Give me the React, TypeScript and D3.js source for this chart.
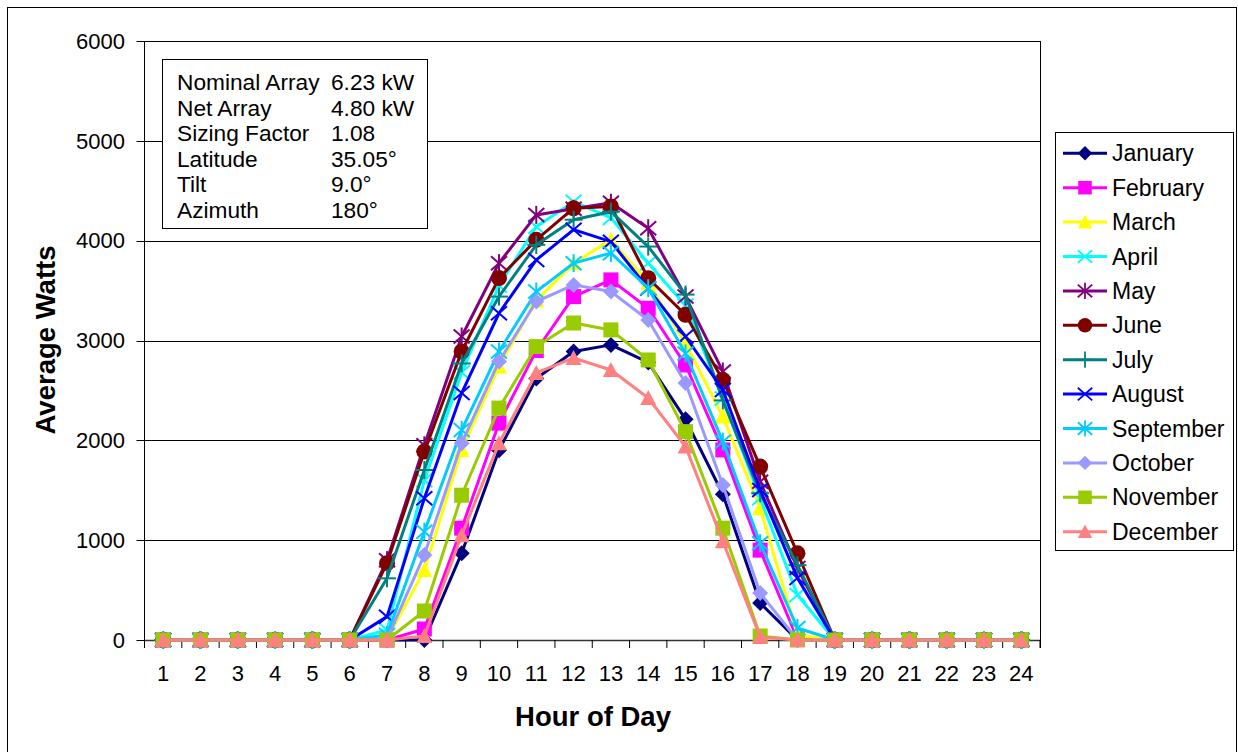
import React from "react";
import * as d3 from "d3";

const hours = d3.range(1, 25);
const yTicks = [0, 1000, 2000, 3000, 4000, 5000, 6000];

const z6 = [0, 0, 0, 0, 0, 0];
const z = (n: number) => new Array(n).fill(0);

const january = [...z6, 0, 0, 870, 1900, 2620, 2890, 2956, 2780, 2210, 1460, 370, 0, ...z(6)];
const february = [...z6, 0, 110, 1120, 2172, 2900, 3440, 3607, 3323, 2755, 1904, 900, 10, ...z(6)];
const march = [...z6, 10, 700, 1904, 2740, 3400, 3775, 4008, 3580, 2973, 2238, 1320, 50, ...z(6)];
const april = [...z6, 100, 1600, 2680, 3550, 4140, 4390, 4228, 3774, 3350, 2420, 1420, 450, ...z(6)];
const may = [...z6, 800, 1950, 3040, 3775, 4258, 4320, 4380, 4125, 3440, 2690, 1586, 720, ...z(6)];
const june = [...z6, 770, 1887, 2890, 3625, 4008, 4325, 4342, 3624, 3257, 2605, 1737, 868, ...z(6)];
const july = [...z6, 618, 1703, 2770, 3440, 3958, 4210, 4290, 3941, 3460, 2400, 1470, 750, ...z(6)];
const august = [...z6, 234, 1420, 2473, 3273, 3807, 4110, 3990, 3520, 3040, 2505, 1503, 620, ...z(6)];
const september = [...z6, 50, 1085, 2104, 2890, 3490, 3775, 3875, 3524, 2870, 1987, 970, 120, ...z(6)];
const october = [...z6, 10, 852, 1970, 2790, 3390, 3557, 3490, 3206, 2575, 1553, 470, 0, ...z(6)];
const november = [...z6, 0, 290, 1450, 2323, 2939, 3175, 3106, 2805, 2087, 1120, 40, 0, ...z(6)];
const december = [...z6, 0, 40, 1050, 1970, 2675, 2825, 2705, 2424, 1937, 990, 30, 0, ...z(6)];

const seriesNames = ["January", "February", "March", "April", "May", "June", "July", "August", "September", "October", "November", "December"];
const seriesValues = [january, february, march, april, may, june, july, august, september, october, november, december];
const seriesColors = ["#000080", "#FF00FF", "#FFFF00", "#00FFFF", "#800080", "#800000", "#008080", "#0000FF", "#00CCFF", "#9999FF", "#99CC00", "#FF8080"];
const seriesMarkers = ["diamond", "square", "triangle", "x", "asterisk", "circle", "plus", "x", "asterisk", "diamond", "square", "triangle"];

const infoLabels = ["Nominal Array", "Net Array", "Sizing Factor", "Latitude", "Tilt", "Azimuth"];
const infoValues = ["6.23 kW", "4.80 kW", "1.08", "35.05°", "9.0°", "180°"];

const FONT = "'Liberation Sans', Arial, sans-serif";

function Marker({ type, x, y, color, s = 1 }: { type: string; x: number; y: number; color: string; s?: number }) {
  const t = `translate(${x},${y}) scale(${s})`;
  switch (type) {
    case "diamond":
      return <polygon transform={t} points="0,-8 8,0 0,8 -8,0" fill={color} />;
    case "square":
      return <rect transform={t} x={-7.5} y={-7.5} width={15} height={15} fill={color} />;
    case "triangle":
      return <polygon transform={t} points="0,-8 8,7 -8,7" fill={color} />;
    case "circle":
      return <circle transform={t} r={8} fill={color} />;
    case "x":
      return (
        <g transform={t} stroke={color} strokeWidth={2}>
          <line x1={-8} y1={-7} x2={8} y2={7} />
          <line x1={-8} y1={7} x2={8} y2={-7} />
        </g>
      );
    case "asterisk":
      return (
        <g transform={t} stroke={color} strokeWidth={2}>
          <line x1={-8} y1={-7} x2={8} y2={7} />
          <line x1={-8} y1={7} x2={8} y2={-7} />
          <line x1={0} y1={-9} x2={0} y2={9} />
        </g>
      );
    case "plus":
      return (
        <g transform={t} stroke={color} strokeWidth={2}>
          <line x1={-9} y1={0} x2={9} y2={0} />
          <line x1={0} y1={-9} x2={0} y2={9} />
        </g>
      );
    default:
      return null;
  }
}

export default function App() {
  const W = 1238, H = 752;
  const left = 144.5, right = 1040, top = 41, bottom = 640;
  const x = d3.scaleBand<number>().domain(hours).range([left, right]);
  const bw = x.bandwidth();
  const cx = (h: number) => (x(h) as number) + bw / 2;
  const y = d3.scaleLinear().domain([0, 6000]).range([bottom, top]);
  const line = d3.line<number>().x((_, i) => cx(hours[i])).y((v) => y(v));

  return (
    <svg width={W} height={H} style={{ position: "absolute", left: 0, top: 0, background: "#fff" }} fontFamily={FONT}>
      <rect x={7.5} y={7.5} width={1229} height={760} fill="#fff" stroke="#000" strokeWidth={1} />
      {/* gridlines */}
      {yTicks.slice(1).map((t) => (
        <line key={t} x1={left} x2={right} y1={Math.round(y(t)) + 0.5} y2={Math.round(y(t)) + 0.5} stroke="#000" strokeWidth={1} />
      ))}
      <line x1={right + 0.5} x2={right + 0.5} y1={top} y2={bottom + 8} stroke="#000" />
      {/* y axis */}
      <line x1={left} x2={left} y1={top} y2={bottom} stroke="#000" />
      {yTicks.map((t) => (
        <g key={t}>
          <line x1={left - 8} x2={left} y1={Math.round(y(t)) + 0.5} y2={Math.round(y(t)) + 0.5} stroke="#000" />
          <text x={125} y={y(t)} dy="0.35em" textAnchor="end" fontSize={22}>{t}</text>
        </g>
      ))}
      {/* x axis */}
      <line x1={left} x2={right} y1={bottom + 0.5} y2={bottom + 0.5} stroke="#333" strokeWidth={1.5} />
      {d3.range(0, 25).map((i) => (
        <line key={i} x1={left + i * bw} x2={left + i * bw} y1={bottom} y2={bottom + 8} stroke="#000" />
      ))}
      {hours.map((h) => (
        <text key={h} x={cx(h)} y={681} textAnchor="middle" fontSize={22}>{h}</text>
      ))}
      <text x={593} y={726} textAnchor="middle" fontSize={27.5} fontWeight="bold">Hour of Day</text>
      <text transform="translate(55,340) rotate(-90)" textAnchor="middle" fontSize={27.5} fontWeight="bold">Average Watts</text>
      {/* series */}
      {seriesValues.map((vals, si) => (
        <g key={si}>
          <path d={line(vals) || ""} fill="none" stroke={seriesColors[si]} strokeWidth={3} strokeLinejoin="round" />
          {vals.map((v, i) => (
            <Marker key={i} type={seriesMarkers[si]} x={cx(hours[i])} y={y(v)} color={seriesColors[si]} />
          ))}
        </g>
      ))}
      {/* info box */}
      <rect x={162.5} y={59.5} width={265} height={169} fill="#fff" stroke="#000" strokeWidth={1} />
      {infoLabels.map((l, i) => (
        <g key={l} fontSize={22.7}>
          <text x={177} y={90 + i * 25.6}>{l}</text>
          <text x={331} y={90 + i * 25.6}>{infoValues[i]}</text>
        </g>
      ))}
      {/* legend */}
      <rect x={1055.5} y={132.5} width={178} height={418} fill="#fff" stroke="#000" strokeWidth={1} />
      {seriesNames.map((n, i) => {
        const ly = 153.3 + i * 34.4;
        return (
          <g key={n}>
            <line x1={1063} x2={1107} y1={ly} y2={ly} stroke={seriesColors[i]} strokeWidth={3} />
            <Marker type={seriesMarkers[i]} x={1085} y={ly} color={seriesColors[i]} s={0.9} />
            <text x={1112} y={ly} dy="0.35em" fontSize={23}>{n}</text>
          </g>
        );
      })}
    </svg>
  );
}
